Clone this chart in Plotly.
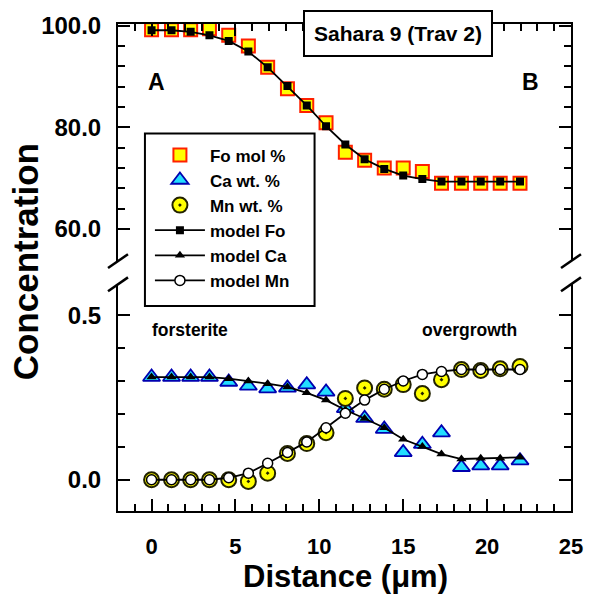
import plotly.graph_objects as go

# ---- data ----
distance = [0, 1.19, 2.33, 3.45, 4.60, 5.77, 6.92, 8.10, 9.25, 10.40,
            11.55, 12.70, 13.87, 15.00, 16.14, 17.28, 18.47, 19.62, 20.78, 21.96]
fo_data = [99.2, 99.2, 99.2, 99.4, 98.1, 96.0, 91.8, 87.6, 84.3, 80.9,
           75.1, 73.5, 72.0, 72.0, 71.3, 69.0, 69.0, 69.0, 69.0, 69.0]
fo_model = [99.1, 99.1, 98.8, 98.1, 97.0, 94.9, 91.8, 88.1, 84.3, 80.2,
            76.6, 73.7, 71.8, 70.5, 69.8, 69.3, 69.3, 69.3, 69.3, 69.3]
ca_data = [0.312, 0.312, 0.312, 0.312, 0.297, 0.285, 0.277, 0.279, 0.289, 0.267,
           0.217, 0.187, 0.154, 0.083, 0.108, 0.143, 0.038, 0.043, 0.043, 0.058]
ca_model = [0.312, 0.312, 0.312, 0.312, 0.307, 0.300, 0.292, 0.282, 0.264, 0.242,
            0.212, 0.186, 0.158, 0.123, 0.101, 0.078, 0.063, 0.065, 0.065, 0.068]
mn_data = [0.0, 0.0, 0.0, 0.0, 0.0, -0.005, 0.020, 0.080, 0.110, 0.143,
           0.247, 0.279, 0.275, 0.289, 0.262, 0.304, 0.335, 0.332, 0.337, 0.344]
mn_model = [0.0, 0.0, 0.0, 0.0, 0.006, 0.020, 0.050, 0.083, 0.115, 0.158,
            0.202, 0.242, 0.275, 0.300, 0.320, 0.329, 0.335, 0.335, 0.335, 0.335]

x_ticks = [0, 5, 10, 15, 20, 25]

ARIAL = "Liberation Sans, Arial, sans-serif"
BLACK = "black"

fig = go.Figure()

# Fo (upper panel)
fig.add_trace(go.Scatter(x=distance, y=fo_data, mode="markers", name="Fo mol %",
                         xaxis="x", yaxis="y", legendrank=1,
                         marker=dict(symbol="square", size=13, color="#FFFF00",
                                     line=dict(color="#FF2000", width=2))))
fig.add_trace(go.Scatter(x=distance, y=fo_model, mode="lines+markers", name="model Fo",
                         xaxis="x", yaxis="y", legendrank=4,
                         line=dict(color=BLACK, width=1.8),
                         marker=dict(symbol="square", size=8, color=BLACK)))
# Ca (lower panel)
fig.add_trace(go.Scatter(x=distance, y=ca_data, mode="markers", name="Ca wt. %",
                         xaxis="x2", yaxis="y2", legendrank=2,
                         marker=dict(symbol="triangle-up", size=15, color="#22DDFF",
                                     line=dict(color="#0000B0", width=1.8))))
fig.add_trace(go.Scatter(x=distance, y=ca_model, mode="lines+markers", name="model Ca",
                         xaxis="x2", yaxis="y2", legendrank=5,
                         line=dict(color=BLACK, width=1.8),
                         marker=dict(symbol="triangle-up", size=9, color=BLACK)))
# Mn (lower panel)
fig.add_trace(go.Scatter(x=distance, y=mn_data, mode="markers", name="Mn wt. %",
                         xaxis="x2", yaxis="y2", legendrank=3,
                         marker=dict(symbol="circle-dot", size=15, color="#FFFF00",
                                     line=dict(color="#222200", width=2))))
fig.add_trace(go.Scatter(x=distance, y=mn_model, mode="lines+markers", name="model Mn",
                         xaxis="x2", yaxis="y2", legendrank=6,
                         line=dict(color=BLACK, width=1.8),
                         marker=dict(symbol="circle", size=10, color="white",
                                     line=dict(color=BLACK, width=1.5))))

axis_common = dict(showline=True, linewidth=2, linecolor=BLACK, ticks="inside",
                   tickwidth=2, tickcolor=BLACK, showgrid=False, zeroline=False)

fig.update_layout(
    width=595, height=594,
    margin=dict(l=118, r=23, t=17, b=83),
    paper_bgcolor="white", plot_bgcolor="rgba(0,0,0,0)",
    font=dict(family=ARIAL, color=BLACK),
    xaxis=dict(domain=[0, 1], anchor="y", side="top", range=[-2, 25],
               tickvals=x_ticks, ticklen=12, showticklabels=False,
               minor=dict(ticks="inside", ticklen=7, dtick=1, tick0=0,
                          tickwidth=1.5, tickcolor=BLACK),
               **axis_common),
    xaxis2=dict(domain=[0, 1], anchor="y2", side="bottom", range=[-2, 25],
                tickvals=x_ticks, ticktext=[str(v) for v in x_ticks], ticklen=12,
                tickfont=dict(family=ARIAL, size=22, weight="bold"),
                ticklabelstandoff=15,
                minor=dict(ticks="inside", ticklen=7, dtick=1, tick0=0,
                           tickwidth=1.5, tickcolor=BLACK),
                **axis_common),
    yaxis=dict(domain=[0.514, 1], anchor="x", range=[53.73, 100.33],
               tickvals=[60, 80, 100], tickformat=".1f", ticklen=12, mirror="ticks",
               tickfont=dict(family=ARIAL, size=24, weight="bold"),
               ticklabelstandoff=10,
               minor=dict(ticks="inside", ticklen=7, tickvals=list(range(60, 101, 4)),
                          tickwidth=1.5, tickcolor=BLACK),
               **axis_common),
    yaxis2=dict(domain=[0, 0.4656], anchor="x2", range=[-0.095, 0.594],
                tickvals=[0, 0.5], tickformat=".1f", ticklen=12, mirror="ticks",
                tickfont=dict(family=ARIAL, size=24, weight="bold"),
                ticklabelstandoff=10,
                minor=dict(ticks="inside", ticklen=7, dtick=0.1, tick0=0,
                           tickwidth=1.5, tickcolor=BLACK),
                **axis_common),
    showlegend=True,
    legend=dict(x=(150 - 118) / 454, y=(511 - 132) / 494, xanchor="left", yanchor="top",
                bgcolor="rgba(0,0,0,0)", borderwidth=0, itemwidth=50,
                font=dict(family=ARIAL, size=17, weight="bold", color=BLACK),
                traceorder="normal"),
)

def px2x(px):
    return (px - 118) / 454

def py2y(py):
    return (511 - py) / 494

shapes = []
# legend box
shapes.append(dict(type="rect", xref="paper", yref="paper", layer="below",
                   x0=px2x(145), x1=px2x(315), y0=py2y(303), y1=py2y(128),
                   line=dict(color=BLACK, width=2), fillcolor="white"))
# axis break slashes
for cx in (118, 572):
    for cy in (257.5, 281):
        shapes.append(dict(type="line", xref="paper", yref="paper",
                           x0=px2x(cx - 10), y0=py2y(cy + 7),
                           x1=px2x(cx + 10), y1=py2y(cy - 7),
                           line=dict(color=BLACK, width=2.5)))
fig.update_layout(shapes=shapes)

annotations = [
    dict(text="Sahara 9 (Trav 2)", xref="paper", yref="paper",
         x=px2x(398.3), y=py2y(26.7), xanchor="center", yanchor="middle",
         showarrow=False, font=dict(family=ARIAL, size=21, weight="bold", color=BLACK),
         bgcolor="white", bordercolor=BLACK, borderwidth=2, borderpad=0,
         width=186, height=43),
    dict(text="A", xref="x", yref="y", x=0.3, y=88.9, showarrow=False,
         font=dict(family=ARIAL, size=23, weight="bold", color=BLACK)),
    dict(text="B", xref="x", yref="y", x=22.57, y=88.9, showarrow=False,
         font=dict(family=ARIAL, size=23, weight="bold", color=BLACK)),
    dict(text="forsterite", xref="x2", yref="y2", x=2.3, y=0.455, showarrow=False,
         font=dict(family=ARIAL, size=17.5, weight="bold", color=BLACK)),
    dict(text="overgrowth", xref="x2", yref="y2", x=18.95, y=0.455, showarrow=False,
         font=dict(family=ARIAL, size=17.5, weight="bold", color=BLACK)),
    dict(text="Concentration", xref="paper", yref="paper", x=px2x(25.5), y=py2y(258),
         textangle=-90, showarrow=False, xanchor="center", yanchor="middle",
         font=dict(family=ARIAL, size=35, weight="bold", color=BLACK)),
    dict(text="Distance (\u03bcm)", xref="paper", yref="paper", x=px2x(346), y=py2y(577),
         showarrow=False, xanchor="center", yanchor="middle",
         font=dict(family=ARIAL, size=31, weight="bold", color=BLACK)),
]
fig.update_layout(annotations=annotations)

fig.write_html("out.html")
